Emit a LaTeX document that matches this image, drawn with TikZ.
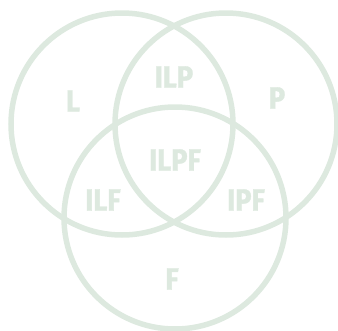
\documentclass[tikz,border=0pt]{standalone}
\usepackage{fontspec}
\setmainfont{Fira Sans}
\newfontfamily\lblfont{Fira Sans}[FakeStretch=0.88,BoldFeatures={FakeStretch=0.88,FakeBold=1.2}]
\definecolor{venn}{RGB}{221,233,223}
\begin{document}
\begin{tikzpicture}[x=1pt,y=-1pt,
  ring/.style={draw=venn,line width=5.5pt},
  lbl/.style={text=venn,font=\lblfont\fontsize{31}{31}\selectfont\bfseries,inner sep=0pt}]
\useasboundingbox (0,0) rectangle (338,330);
\draw[ring] (122,124) circle[radius=111pt];
\draw[ring] (226,124) circle[radius=111pt];
\draw[ring] (175,218) circle[radius=111pt];
\node[lbl] (L) at (73,101) {L};
\node[lbl] (ILP) at (174,77) {ILP};
\node[lbl] (P) at (277,98) {P};
\node[lbl] (ILPF) at (175,160) {ILPF};
\node[lbl] (ILF) at (103,200) {ILF};
\node[lbl] (IPF) at (246,200) {IPF};
\node[lbl] (F) at (172,279) {F};
\end{tikzpicture}
\end{document}
